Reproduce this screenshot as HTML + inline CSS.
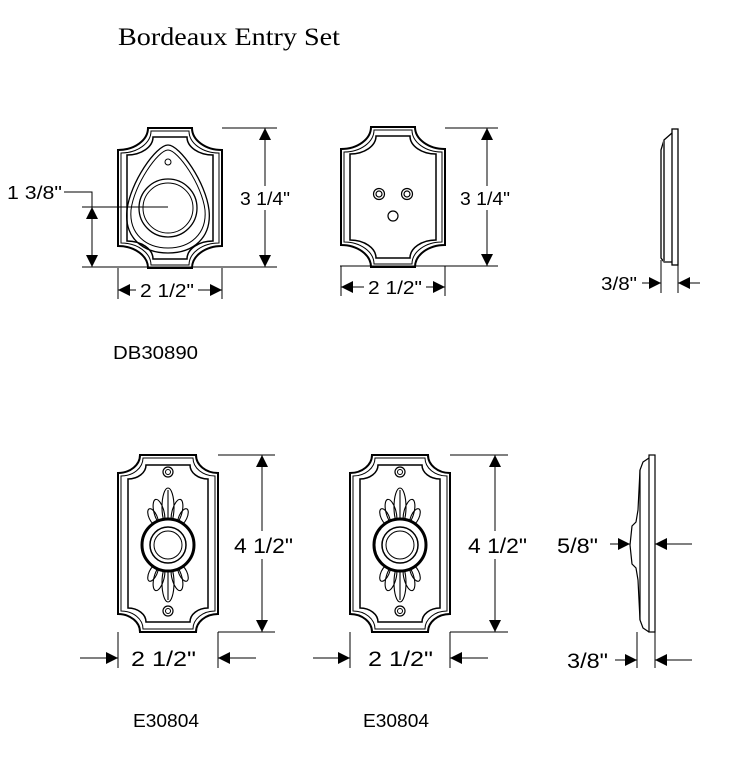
<!DOCTYPE html>
<html><head><meta charset="utf-8"><style>
html,body{margin:0;padding:0;background:#fff;}
svg{display:block;}
text{font-family:"Liberation Sans",sans-serif;fill:#000;}
</style></head><body>
<svg width="738" height="769" viewBox="0 0 738 769" xmlns="http://www.w3.org/2000/svg">
<defs>
<marker id="ar" viewBox="0 0 10 10" refX="10" refY="5" markerWidth="12" markerHeight="12" markerUnits="userSpaceOnUse" orient="auto-start-reverse"><path d="M0 0 L10 5 L0 10 Z" fill="#000"/></marker>
<g id="ptop" fill="none" stroke="#000">
<path stroke-width="2" d="M30 0 H74 A30 22 0 0 0 104 22 V118 A30 22 0 0 0 74 140 H30 A30 22 0 0 0 0 118 V22 A30 22 0 0 0 30 0Z"/>
<path stroke-width="1" d="M33 3 H71 A30 22 0 0 0 101 25 V115 A30 22 0 0 0 71 137 H33 A30 22 0 0 0 3 115 V25 A30 22 0 0 0 33 3Z"/>
<path stroke-width="1.5" d="M35 9 H69 A26 18 0 0 0 95 27 V113 A26 18 0 0 0 69 131 H35 A26 18 0 0 0 9 113 V27 A26 18 0 0 0 35 9Z"/>
</g>
<g id="pbot" fill="none" stroke="#000">
<path stroke-width="2" d="M22 0 H78 A22 18 0 0 0 100 18 V159 A22 18 0 0 0 78 177 H22 A22 18 0 0 0 0 159 V18 A22 18 0 0 0 22 0Z"/>
<path stroke-width="1" d="M25 3 H75 A22 18 0 0 0 97 21 V156 A22 18 0 0 0 75 174 H25 A22 18 0 0 0 3 156 V21 A22 18 0 0 0 25 3Z"/>
<path stroke-width="1.5" d="M28 10 H72 A18 14 0 0 0 90 24 V153 A18 14 0 0 0 72 167 H28 A18 14 0 0 0 10 153 V24 A18 14 0 0 0 28 10Z"/>
<circle cx="50" cy="17" r="5" stroke-width="1.2"/><circle cx="50" cy="17" r="2.5" stroke-width="1"/>
<circle cx="50" cy="156" r="5" stroke-width="1.2"/><circle cx="50" cy="156" r="2.5" stroke-width="1"/>
<g stroke-width="1.1">
<ellipse cx="50" cy="52" rx="6" ry="19"/><line x1="50" y1="35" x2="50" y2="70"/>
<ellipse cx="41" cy="57" rx="5" ry="13" transform="rotate(-15 41 57)"/>
<ellipse cx="59" cy="57" rx="5" ry="13" transform="rotate(15 59 57)"/>
<ellipse cx="35" cy="62" rx="4" ry="9" transform="rotate(-25 35 62)"/>
<ellipse cx="65" cy="62" rx="4" ry="9" transform="rotate(25 65 62)"/>
<ellipse cx="50" cy="128" rx="6" ry="19"/><line x1="50" y1="110" x2="50" y2="145"/>
<ellipse cx="41" cy="123" rx="5" ry="13" transform="rotate(15 41 123)"/>
<ellipse cx="59" cy="123" rx="5" ry="13" transform="rotate(-15 59 123)"/>
<ellipse cx="35" cy="118" rx="4" ry="9" transform="rotate(25 35 118)"/>
<ellipse cx="65" cy="118" rx="4" ry="9" transform="rotate(-25 65 118)"/>
</g>
<circle cx="50" cy="90" r="26" fill="#fff" stroke-width="3"/>
<circle cx="50" cy="90" r="18" stroke-width="1.5"/>
<circle cx="50" cy="90" r="14" stroke-width="1"/>
</g>
</defs>

<text x="118" y="45" style="font-family:'Liberation Serif',serif;font-size:25px" textLength="222" lengthAdjust="spacingAndGlyphs">Bordeaux Entry Set</text>

<!-- Top left plate -->
<use href="#ptop" transform="translate(118,128)"/>
<g fill="none" stroke="#000" transform="translate(118,128)">
<path stroke-width="1.3" d="M50 17 C62 17 88 55 91 82 C94 110 75 125 50 125 C25 125 6 110 9 82 C12 55 38 17 50 17Z"/>
<path stroke-width="1" d="M50 22 C60 22 84 57 87 82 C89 106 72 120 50 120 C28 120 11 106 13 82 C16 57 40 22 50 22Z"/>
<circle cx="50" cy="34" r="3"/>
<circle cx="50" cy="80" r="29" stroke-width="1.3"/>
<circle cx="50" cy="80" r="25" stroke-width="1"/>
</g>
<g stroke="#000" stroke-width="1" fill="none">
<line x1="222" y1="128" x2="277" y2="128"/>
<line x1="82" y1="267" x2="277" y2="267"/>
<line x1="265" y1="128" x2="265" y2="267" marker-start="url(#ar)" marker-end="url(#ar)"/>
<polyline points="64,192 92,192 92,207"/>
<line x1="82" y1="207" x2="168" y2="207"/>
<line x1="92" y1="207" x2="92" y2="267" marker-start="url(#ar)" marker-end="url(#ar)"/>
<line x1="118" y1="268" x2="118" y2="299"/>
<line x1="222" y1="268" x2="222" y2="299"/>
<line x1="118" y1="290" x2="222" y2="290" marker-start="url(#ar)" marker-end="url(#ar)"/>
</g>
<rect x="237" y="186" width="56" height="24" fill="#fff"/>
<text x="240" y="205" font-size="18" textLength="50" lengthAdjust="spacingAndGlyphs">3 1/4"</text>
<rect x="136" y="280" width="62" height="20" fill="#fff"/>
<text x="140" y="297" font-size="18" textLength="54" lengthAdjust="spacingAndGlyphs">2 1/2"</text>
<text x="7" y="199" font-size="18" textLength="55" lengthAdjust="spacingAndGlyphs">1 3/8"</text>
<text x="113" y="359" font-size="18" textLength="85" lengthAdjust="spacingAndGlyphs">DB30890</text>

<!-- Top center plate -->
<use href="#ptop" transform="translate(341,127)"/>
<g fill="none" stroke="#000" stroke-width="1.2">
<circle cx="379" cy="194" r="5.5"/><circle cx="379" cy="194" r="3"/>
<circle cx="407" cy="194" r="5.5"/><circle cx="407" cy="194" r="3"/>
<circle cx="393" cy="216" r="5"/>
</g>
<g stroke="#000" stroke-width="1" fill="none">
<line x1="445" y1="128" x2="498" y2="128"/>
<line x1="340" y1="266" x2="498" y2="266"/>
<line x1="487" y1="128" x2="487" y2="266" marker-start="url(#ar)" marker-end="url(#ar)"/>
<line x1="341" y1="266" x2="341" y2="296"/>
<line x1="445" y1="266" x2="445" y2="296"/>
<line x1="341" y1="287" x2="445" y2="287" marker-start="url(#ar)" marker-end="url(#ar)"/>
</g>
<rect x="457" y="186" width="56" height="24" fill="#fff"/>
<text x="460" y="205" font-size="18" textLength="50" lengthAdjust="spacingAndGlyphs">3 1/4"</text>
<rect x="364" y="277" width="62" height="20" fill="#fff"/>
<text x="368" y="294" font-size="18" textLength="54" lengthAdjust="spacingAndGlyphs">2 1/2"</text>

<!-- Top side view -->
<g fill="none" stroke="#000">
<rect x="672" y="129" width="6" height="136" stroke-width="1.3"/>
<path d="M672 133 L664 140 L661 150 V258 L664 262 L672 262" stroke-width="1.3"/>
<line x1="664" y1="140" x2="664" y2="262" stroke-width="2" stroke="#555"/>
<line x1="661" y1="260" x2="661" y2="293"/>
<line x1="678" y1="265" x2="678" y2="293"/>
<line x1="642" y1="283" x2="661" y2="283" marker-end="url(#ar)"/>
<line x1="700" y1="283" x2="678" y2="283" marker-end="url(#ar)"/>
</g>
<text x="601" y="290" font-size="18" textLength="36" lengthAdjust="spacingAndGlyphs">3/8"</text>

<!-- Bottom left plate -->
<use href="#pbot" transform="translate(118,455)"/>
<g stroke="#000" stroke-width="1" fill="none">
<line x1="218" y1="455" x2="275" y2="455"/>
<line x1="218" y1="632" x2="275" y2="632"/>
<line x1="262" y1="455" x2="262" y2="632" marker-start="url(#ar)" marker-end="url(#ar)"/>
<line x1="118" y1="632" x2="118" y2="668"/>
<line x1="218" y1="632" x2="218" y2="668"/>
<line x1="80" y1="658" x2="118" y2="658" marker-end="url(#ar)"/>
<line x1="256" y1="658" x2="218" y2="658" marker-end="url(#ar)"/>
</g>
<rect x="231" y="531" width="66" height="28" fill="#fff"/>
<text x="234" y="553" font-size="21" textLength="59" lengthAdjust="spacingAndGlyphs">4 1/2"</text>
<text x="131" y="666" font-size="21" textLength="65" lengthAdjust="spacingAndGlyphs">2 1/2"</text>
<text x="133" y="727" font-size="18" textLength="66" lengthAdjust="spacingAndGlyphs">E30804</text>

<!-- Bottom center plate -->
<use href="#pbot" transform="translate(350,455)"/>
<g stroke="#000" stroke-width="1" fill="none">
<line x1="450" y1="455" x2="508" y2="455"/>
<line x1="450" y1="632" x2="508" y2="632"/>
<line x1="495" y1="455" x2="495" y2="632" marker-start="url(#ar)" marker-end="url(#ar)"/>
<line x1="350" y1="632" x2="350" y2="668"/>
<line x1="450" y1="632" x2="450" y2="668"/>
<line x1="313" y1="658" x2="350" y2="658" marker-end="url(#ar)"/>
<line x1="488" y1="658" x2="450" y2="658" marker-end="url(#ar)"/>
</g>
<rect x="465" y="531" width="66" height="28" fill="#fff"/>
<text x="468" y="553" font-size="21" textLength="59" lengthAdjust="spacingAndGlyphs">4 1/2"</text>
<text x="368" y="666" font-size="21" textLength="65" lengthAdjust="spacingAndGlyphs">2 1/2"</text>
<text x="363" y="727" font-size="18" textLength="66" lengthAdjust="spacingAndGlyphs">E30804</text>

<!-- Bottom side view -->
<g fill="none" stroke="#000" stroke-width="1.2">
<rect x="649" y="455" width="6" height="177"/>
<path d="M649 458 L643 462 L640 470 L638 510 L636 522 L632 526 L630 545 L632 564 L636 568 L638 580 L640 620 L643 628 L649 632"/>
<line x1="640" y1="470" x2="640" y2="620"/>
<line x1="637" y1="632" x2="637" y2="668" stroke-width="1"/>
<line x1="655" y1="632" x2="655" y2="668" stroke-width="1"/>
<line x1="610" y1="544" x2="630" y2="544" stroke-width="1" marker-end="url(#ar)"/>
<line x1="692" y1="544" x2="655" y2="544" stroke-width="1" marker-end="url(#ar)"/>
<line x1="615" y1="660" x2="637" y2="660" stroke-width="1" marker-end="url(#ar)"/>
<line x1="692" y1="660" x2="655" y2="660" stroke-width="1" marker-end="url(#ar)"/>
</g>
<text x="557" y="553" font-size="21" textLength="41" lengthAdjust="spacingAndGlyphs">5/8"</text>
<text x="567" y="668" font-size="21" textLength="41" lengthAdjust="spacingAndGlyphs">3/8"</text>
</svg>
</body></html>
